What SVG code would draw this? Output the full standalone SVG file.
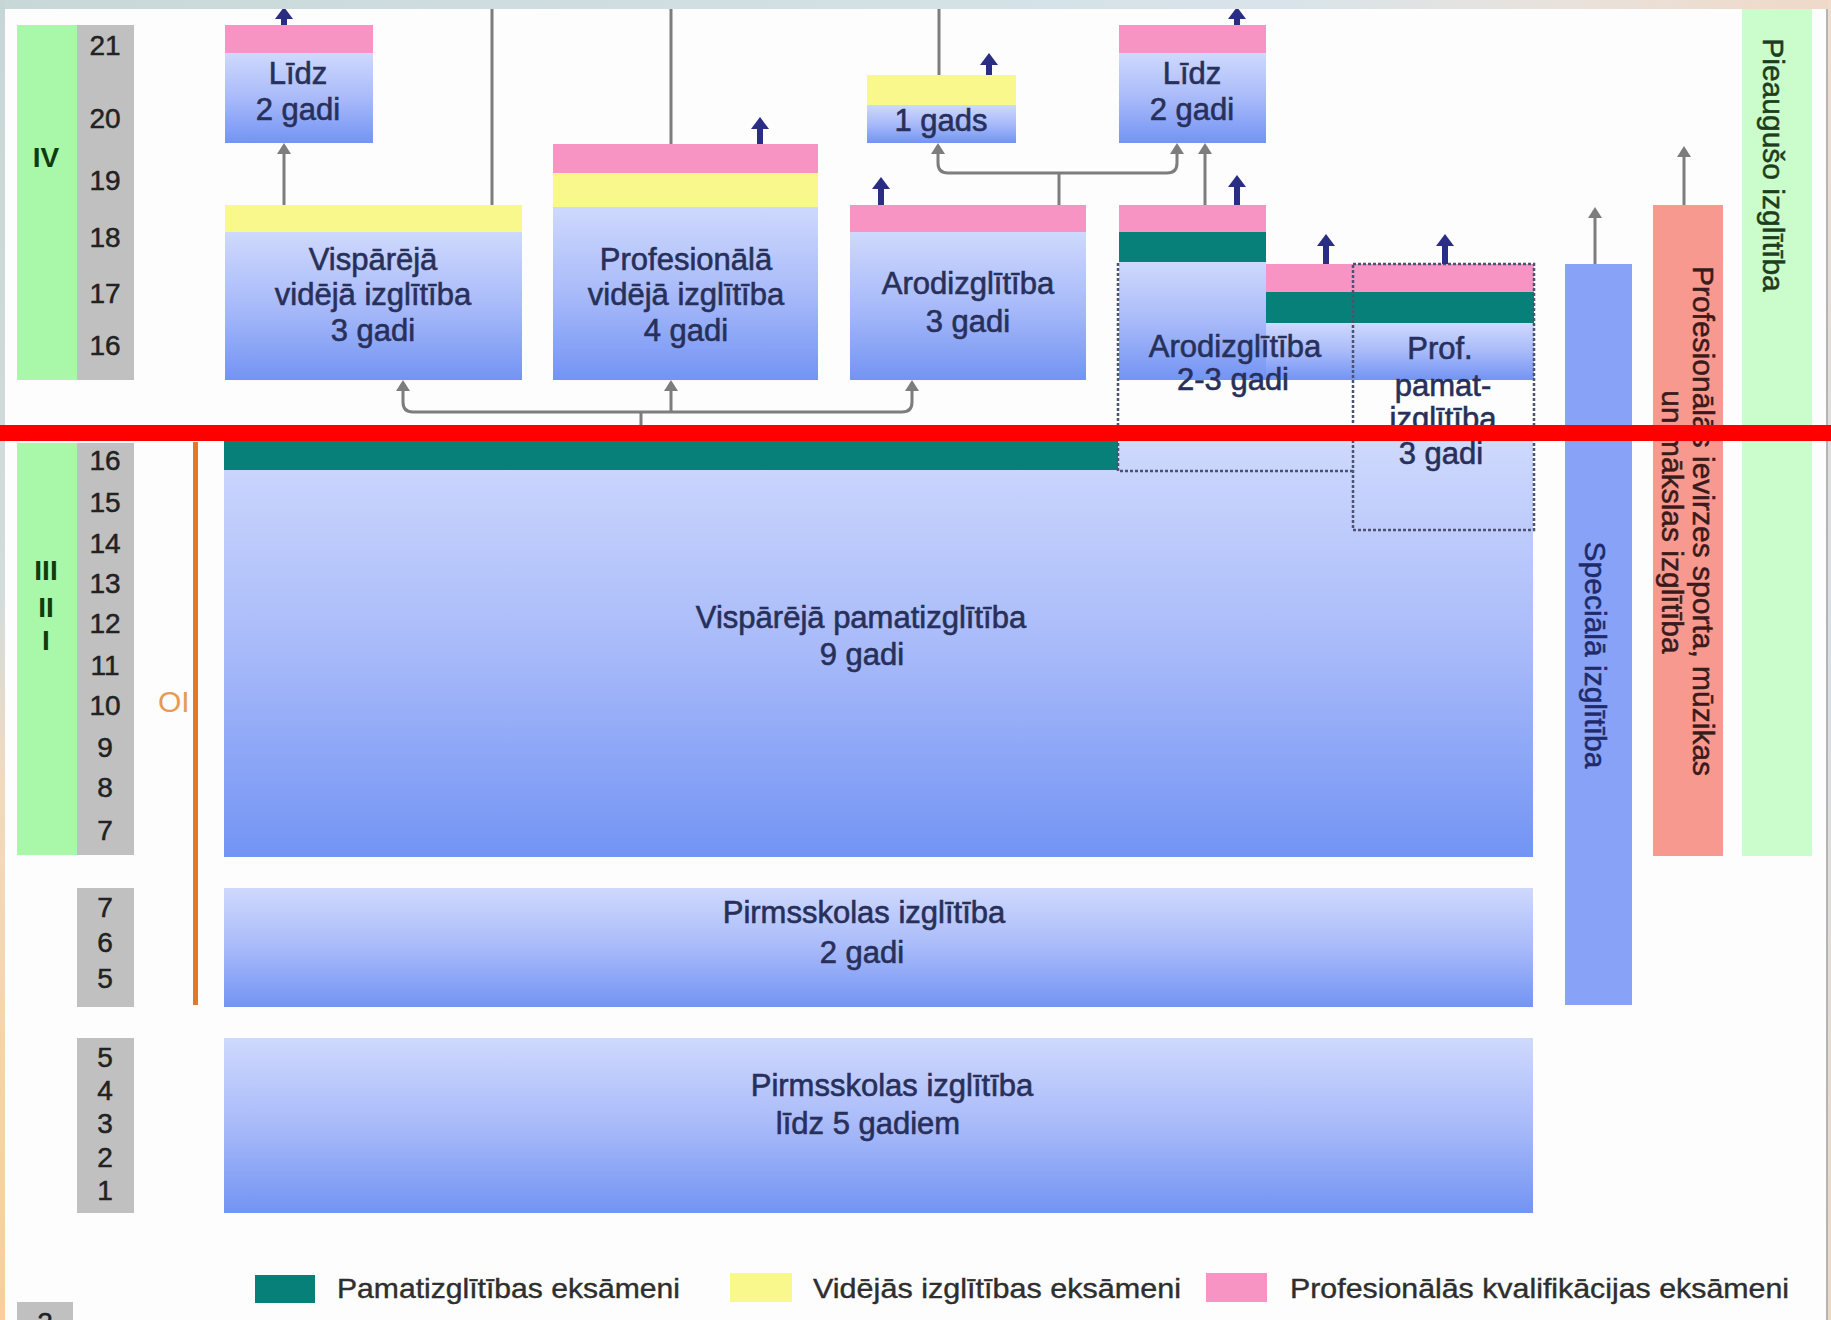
<svg xmlns="http://www.w3.org/2000/svg" width="1831" height="1320" viewBox="0 0 1831 1320">
<defs>
<linearGradient id="gBlue" x1="0" y1="0" x2="0" y2="1">
<stop offset="0" stop-color="#cfd9fd"/>
<stop offset="0.5" stop-color="#a8baf9"/>
<stop offset="1" stop-color="#7394f4"/>
</linearGradient>
<linearGradient id="gLeft" x1="0" y1="0" x2="0" y2="1">
<stop offset="0" stop-color="#c6d6d6"/>
<stop offset="0.45" stop-color="#d3dcdc"/>
<stop offset="0.6" stop-color="#f2d9bd"/>
<stop offset="1" stop-color="#f6cf9c"/>
</linearGradient>
<linearGradient id="gTop" x1="0" y1="0" x2="1" y2="0">
<stop offset="0" stop-color="#c8d8d8"/>
<stop offset="0.7" stop-color="#d8e4ea"/>
<stop offset="0.85" stop-color="#e9e2dc"/>
<stop offset="1" stop-color="#efd9c8"/>
</linearGradient>
<linearGradient id="gRight" x1="0" y1="0" x2="0" y2="1">
<stop offset="0" stop-color="#f1dccb"/>
<stop offset="0.5" stop-color="#d6dfe6"/>
<stop offset="1" stop-color="#efd8c2"/>
</linearGradient>
<marker id="aGray" viewBox="0 -7 11 14" refX="2" refY="0" markerWidth="11" markerHeight="14" markerUnits="userSpaceOnUse" orient="auto">
<path d="M0,-7 L11,0 L0,7 z" fill="#7d7d7d"/>
</marker>
<marker id="aNavy" viewBox="0 -9 12 18" refX="2" refY="0" markerWidth="12" markerHeight="18" markerUnits="userSpaceOnUse" orient="auto">
<path d="M0,-9 L12,0 L0,9 z" fill="#2a2d84"/>
</marker>
<style>
text{font-family:"Liberation Sans",Arial,sans-serif;}
.lbl{font-size:31px;fill:#28305a;stroke:#28305a;stroke-width:0.6;text-anchor:middle;}
.num{font-size:28px;fill:#222;stroke:#222;stroke-width:0.5;text-anchor:middle;}
.rom{font-size:28px;font-weight:bold;fill:#0f3d10;text-anchor:middle;}
.leg{font-size:28px;fill:#2e2e2e;stroke:#2e2e2e;stroke-width:0.4;}
.rot{font-size:30px;text-anchor:middle;stroke-width:0.5;}
.blue{fill:url(#gBlue);}
.pink{fill:#f894c4;}
.yel{fill:#f8f88c;}
.teal{fill:#08807a;}
.gray{fill:#c0c0c0;}
.grn{fill:#a9f8a9;}
.con{fill:none;stroke:#7d7d7d;stroke-width:3;}
.nav{fill:none;stroke:#2a2d84;stroke-width:6;}
.dot{fill:none;stroke:#4c5272;stroke-width:2.5;stroke-dasharray:3 2;}
</style>
</defs>
<rect x="0" y="0" width="1831" height="1320" fill="#fdfdfd"/>

<g id="age-scale">
<rect class="grn" x="17" y="25" width="60" height="355"/>
<rect class="gray" x="77" y="25" width="57" height="355"/>
<text class="rom" x="46" y="167">IV</text>
<text class="num" x="105" y="55">21</text>
<text class="num" x="105" y="128">20</text>
<text class="num" x="105" y="190">19</text>
<text class="num" x="105" y="247">18</text>
<text class="num" x="105" y="303">17</text>
<text class="num" x="105" y="355">16</text>
<rect class="grn" x="17" y="443" width="60" height="412"/>
<rect class="gray" x="77" y="443" width="57" height="412"/>
<text class="rom" x="46" y="580">III</text>
<text class="rom" x="46" y="617">II</text>
<text class="rom" x="46" y="650">I</text>
<text class="num" x="105" y="470">16</text>
<text class="num" x="105" y="512">15</text>
<text class="num" x="105" y="553">14</text>
<text class="num" x="105" y="593">13</text>
<text class="num" x="105" y="633">12</text>
<text class="num" x="105" y="675">11</text>
<text class="num" x="105" y="715">10</text>
<text class="num" x="105" y="757">9</text>
<text class="num" x="105" y="797">8</text>
<text class="num" x="105" y="840">7</text>
<rect class="gray" x="77" y="888" width="57" height="119"/>
<text class="num" x="105" y="917">7</text>
<text class="num" x="105" y="952">6</text>
<text class="num" x="105" y="988">5</text>
<rect class="gray" x="77" y="1038" width="57" height="175"/>
<text class="num" x="105" y="1067">5</text>
<text class="num" x="105" y="1100">4</text>
<text class="num" x="105" y="1133">3</text>
<text class="num" x="105" y="1167">2</text>
<text class="num" x="105" y="1200">1</text>
<rect class="gray" x="17" y="1302" width="56" height="18"/>
<text class="num" x="45" y="1332">2</text>
</g>

<g id="oi-marker">
<text x="158" y="712" font-size="30" fill="#e69a55">OI</text>
<rect x="193" y="442" width="5" height="563" fill="#e07a28"/>
</g>

<g id="lidz-1">
<rect class="pink" x="225" y="25" width="148" height="28"/>
<rect class="blue" x="225" y="53" width="148" height="90"/>
<text class="lbl" x="298" y="84">Līdz</text>
<text class="lbl" x="298" y="120">2 gadi</text>
</g>

<g id="visp-videja">
<rect class="yel" x="225" y="205" width="297" height="27"/>
<rect class="blue" x="225" y="232" width="297" height="148"/>
<text class="lbl" x="373" y="270">Vispārējā</text>
<text class="lbl" x="373" y="305">vidējā izglītība</text>
<text class="lbl" x="373" y="341">3 gadi</text>
</g>

<g id="prof-videja">
<rect class="pink" x="553" y="144" width="265" height="29"/>
<rect class="yel" x="553" y="173" width="265" height="34"/>
<rect class="blue" x="553" y="207" width="265" height="173"/>
<text class="lbl" x="686" y="270">Profesionālā</text>
<text class="lbl" x="686" y="305">vidējā izglītība</text>
<text class="lbl" x="686" y="341">4 gadi</text>
</g>

<g id="gads-1">
<rect class="yel" x="867" y="75" width="149" height="30"/>
<rect class="blue" x="867" y="105" width="149" height="38"/>
<text class="lbl" x="941" y="131">1 gads</text>
</g>

<g id="arod-3">
<rect class="pink" x="850" y="205" width="236" height="27"/>
<rect class="blue" x="850" y="232" width="236" height="148"/>
<text class="lbl" x="968" y="294">Arodizglītība</text>
<text class="lbl" x="968" y="332">3 gadi</text>
</g>

<g id="lidz-2">
<rect class="pink" x="1119" y="25" width="147" height="28"/>
<rect class="blue" x="1119" y="53" width="147" height="90"/>
<text class="lbl" x="1192" y="84">Līdz</text>
<text class="lbl" x="1192" y="120">2 gadi</text>
</g>

<g id="base-9">
<rect class="blue" x="224" y="441" width="1309" height="416"/>
<rect class="teal" x="224" y="441" width="894" height="29"/>
<text class="lbl" x="861" y="628">Vispārējā pamatizglītība</text>
<text class="lbl" x="862" y="665">9 gadi</text>
</g>

<g id="arod-2-3">
<rect class="pink" x="1119" y="205" width="147" height="27"/>
<rect class="teal" x="1119" y="232" width="147" height="30"/>
<rect class="blue" x="1119" y="262" width="147" height="118"/>
<rect class="pink" x="1266" y="264" width="268" height="28"/>
<rect class="teal" x="1266" y="292" width="268" height="31"/>
<rect class="blue" x="1266" y="323" width="268" height="57"/>
<path class="dot" d="M1118,263 V471 H1353"/>
<text class="lbl" x="1235" y="357">Arodizglītība</text>
<text class="lbl" x="1233" y="390">2-3 gadi</text>
</g>

<g id="prof-pamat">
<rect class="dot" x="1353" y="264" width="181" height="266"/>
<text class="lbl" x="1440" y="359">Prof.</text>
<text class="lbl" x="1443" y="396">pamat-</text>
<text class="lbl" x="1443" y="429">izglītība</text>
<text class="lbl" x="1441" y="464">3 gadi</text>
</g>

<g id="pirmsskolas-2">
<rect class="blue" x="224" y="888" width="1309" height="119"/>
<text class="lbl" x="864" y="923">Pirmsskolas izglītība</text>
<text class="lbl" x="862" y="963">2 gadi</text>
</g>

<g id="pirmsskolas-5">
<rect class="blue" x="224" y="1038" width="1309" height="175"/>
<text class="lbl" x="892" y="1096">Pirmsskolas izglītība</text>
<text class="lbl" x="868" y="1134">līdz 5 gadiem</text>
</g>

<g id="speciala">
<rect x="1565" y="264" width="67" height="741" fill="#87a2f6"/>
<text class="rot" fill="#1f2a6a" stroke="#1f2a6a" transform="translate(1585,655) rotate(90)">Speciālā izglītība</text>
</g>

<g id="prof-ievirzes">
<rect x="1653" y="205" width="70" height="651" fill="#f8998f"/>
<text class="rot" fill="#3a1a1a" stroke="#3a1a1a" transform="translate(1693,521) rotate(90)">Profesionālās ievirzes sporta, mūzikas</text>
<text class="rot" fill="#3a1a1a" stroke="#3a1a1a" transform="translate(1662,522) rotate(90)">un mākslas izglītība</text>
</g>

<g id="pieauguso">
<rect x="1742" y="9" width="70" height="847" fill="#cbfccb"/>
<text class="rot" fill="#1d3d1d" stroke="#1d3d1d" transform="translate(1763,165) rotate(90)">Pieaugušo izglītība</text>
</g>

<g id="connectors">
<path class="con" d="M492,9 V205"/>
<path class="con" d="M671,9 V144"/>
<path class="con" d="M939,9 V75"/>
<path class="con" d="M284,205 V152" marker-end="url(#aGray)"/>
<path class="con" d="M1205,205 V152" marker-end="url(#aGray)"/>
<path class="con" d="M1059,205 V173"/>
<path class="con" d="M1059,173 H948 Q938,173 938,163 V152" marker-end="url(#aGray)"/>
<path class="con" d="M1059,173 H1167 Q1177,173 1177,163 V152" marker-end="url(#aGray)"/>
<path class="con" d="M641,441 V412"/>
<path class="con" d="M641,412 H413 Q403,412 403,402 V389" marker-end="url(#aGray)"/>
<path class="con" d="M641,412 H902 Q912,412 912,402 V389" marker-end="url(#aGray)"/>
<path class="con" d="M671,412 V389" marker-end="url(#aGray)"/>
<path class="con" d="M1595,264 V216" marker-end="url(#aGray)"/>
<path class="con" d="M1684,205 V155" marker-end="url(#aGray)"/>
<path class="nav" d="M284,25 V17" marker-end="url(#aNavy)"/>
<path class="nav" d="M1237,25 V17" marker-end="url(#aNavy)"/>
<path class="nav" d="M760,144 V127" marker-end="url(#aNavy)"/>
<path class="nav" d="M989,75 V63" marker-end="url(#aNavy)"/>
<path class="nav" d="M881,205 V187" marker-end="url(#aNavy)"/>
<path class="nav" d="M1237,205 V185" marker-end="url(#aNavy)"/>
<path class="nav" d="M1326,264 V244" marker-end="url(#aNavy)"/>
<path class="nav" d="M1445,264 V244" marker-end="url(#aNavy)"/>
</g>

<g id="legend">
<rect class="teal" x="255" y="1275" width="60" height="28"/>
<text class="leg" x="337" y="1298" textLength="343" lengthAdjust="spacingAndGlyphs">Pamatizglītības eksāmeni</text>
<rect class="yel" x="730" y="1273" width="62" height="29"/>
<text class="leg" x="813" y="1298" textLength="368" lengthAdjust="spacingAndGlyphs">Vidējās izglītības eksāmeni</text>
<rect class="pink" x="1206" y="1273" width="61" height="29"/>
<text class="leg" x="1290" y="1298" textLength="499" lengthAdjust="spacingAndGlyphs">Profesionālās kvalifikācijas eksāmeni</text>
</g>

<g id="frame">
<rect x="0" y="0" width="1831" height="9" fill="url(#gTop)"/>
<rect x="0" y="0" width="5" height="1320" fill="url(#gLeft)"/>
<rect x="1826" y="9" width="2" height="1311" fill="#b4b4b4"/>
<rect x="1828" y="0" width="3" height="1320" fill="url(#gRight)"/>
<rect x="0" y="425" width="1831" height="16" fill="#ff0000"/>
</g>
</svg>
